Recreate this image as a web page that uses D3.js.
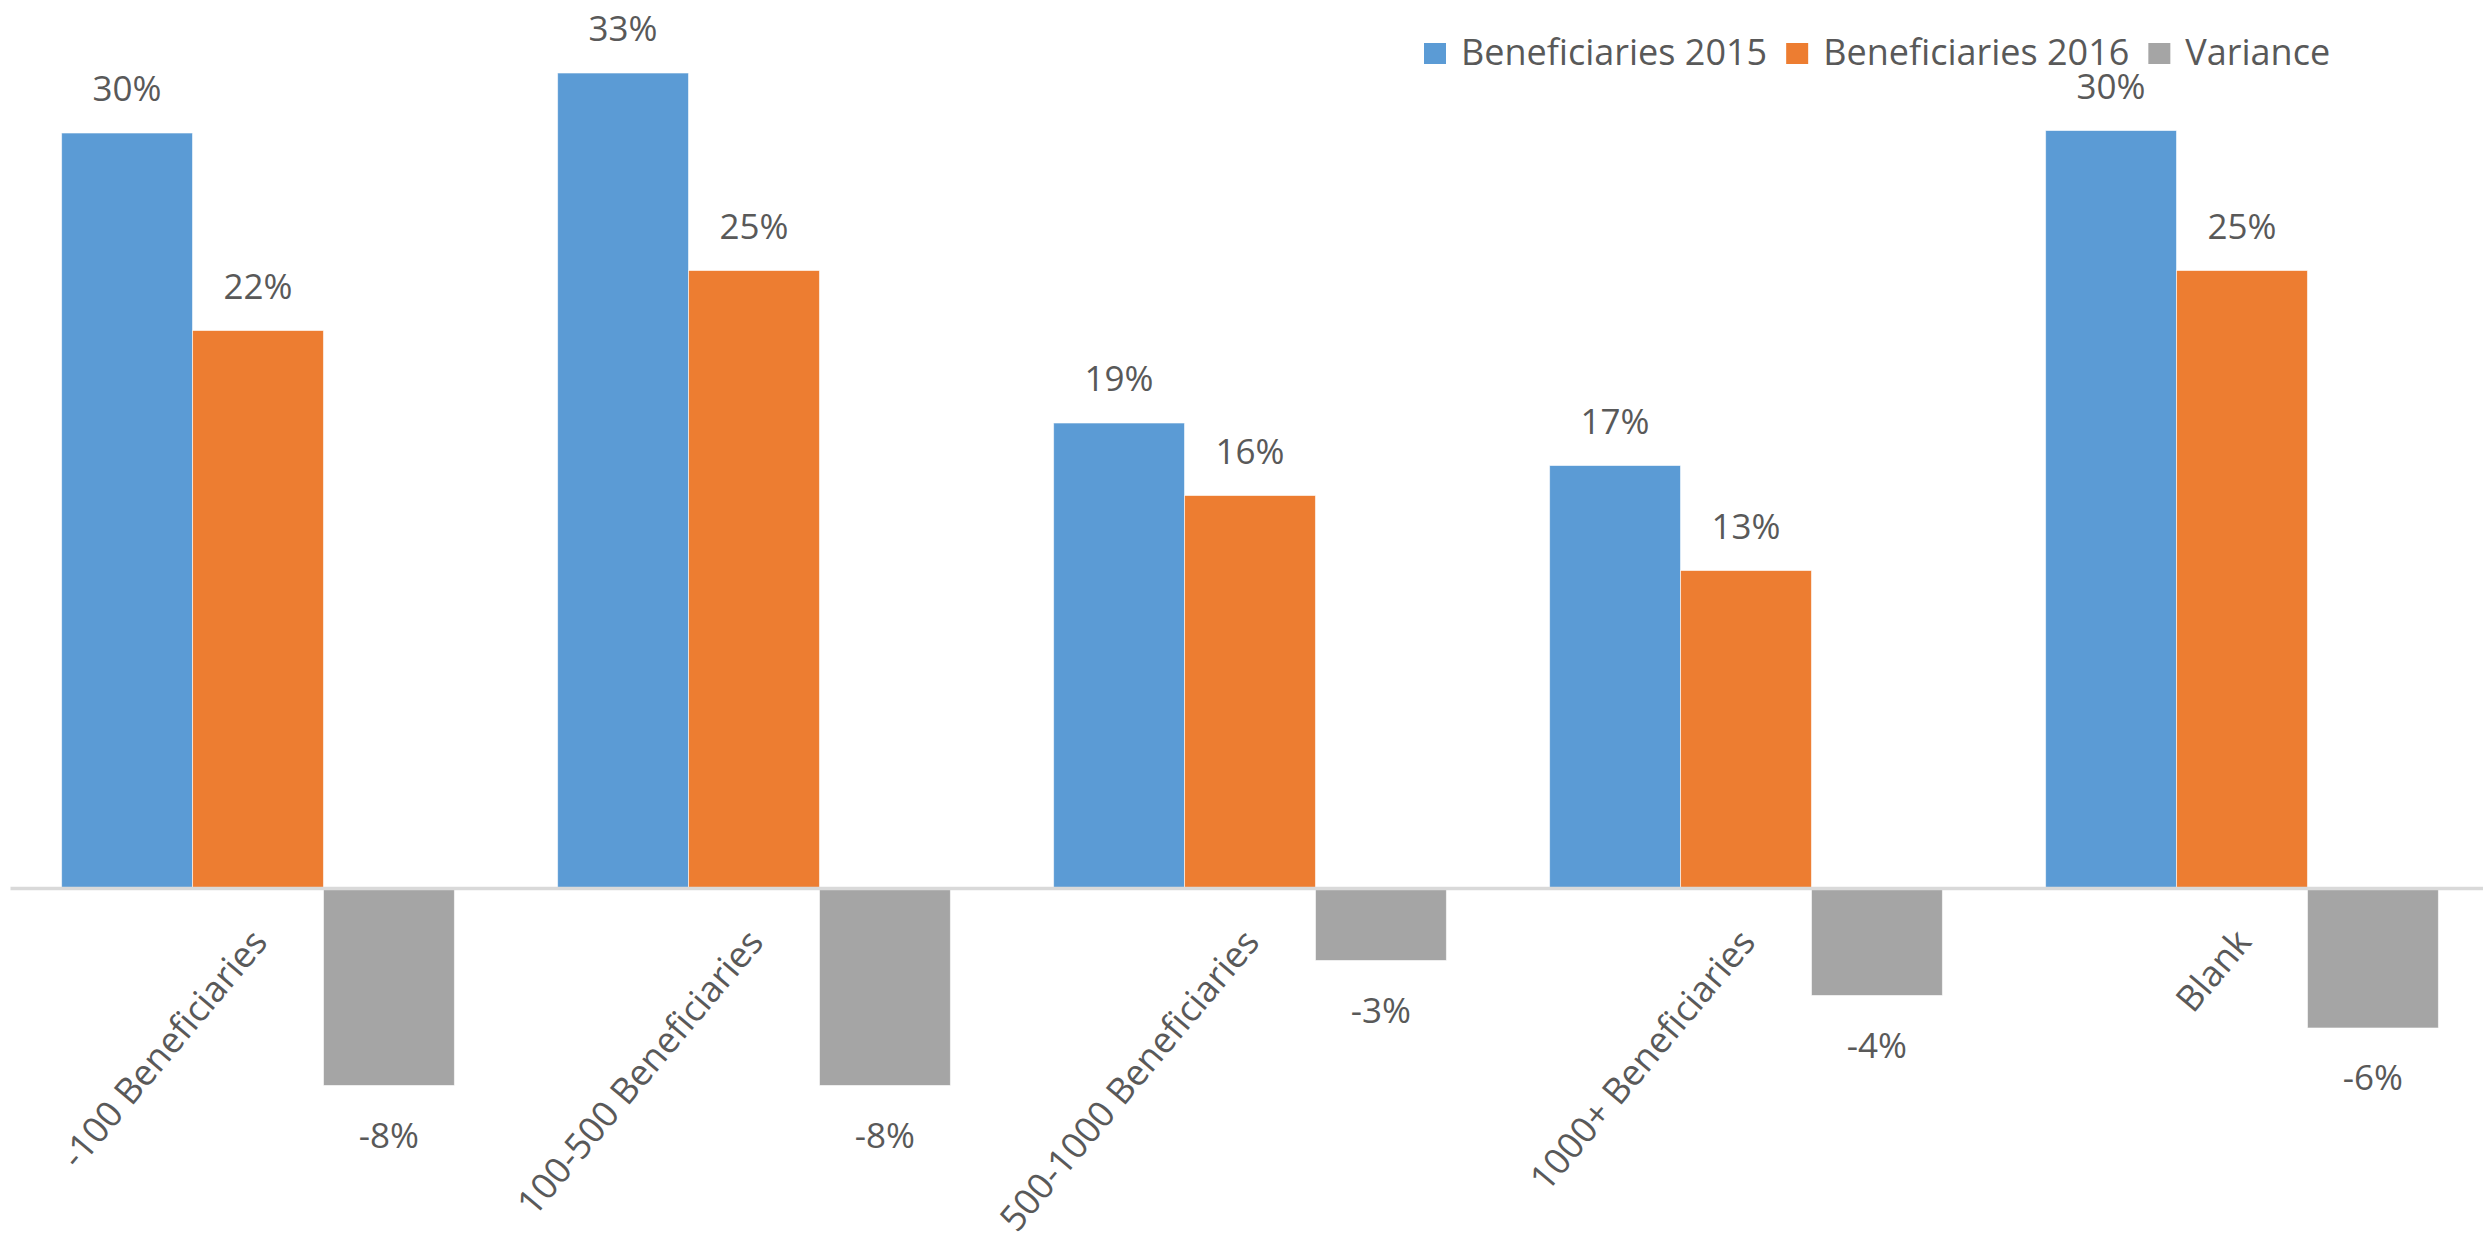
<!DOCTYPE html>
<html>
<head>
<meta charset="utf-8">
<script src="https://cdn.jsdelivr.net/npm/d3@7"></script>
<style>
  html, body { margin: 0; padding: 0; background: #ffffff; }
  svg { display: block; }
  text { font-family: "Open Sans", "Noto Sans", sans-serif; fill: #595959; }
</style>
</head>
<body>
<svg id="chart" width="2483" height="1244"></svg>
<script>
const categories = ["-100 Beneficiaries", "100-500 Beneficiaries", "500-1000 Beneficiaries", "1000+ Beneficiaries", "Blank"];
const seriesNames = ["Beneficiaries 2015", "Beneficiaries 2016", "Variance"];
const beneficiaries2015 = [0.302, 0.326, 0.186, 0.169, 0.303];
const beneficiaries2016 = [0.223, 0.247, 0.157, 0.127, 0.247];
const variance = [-0.079, -0.079, -0.029, -0.043, -0.056];
const seriesColors = ["#5B9BD5", "#ED7D31", "#A5A5A5"];

const svg = d3.select("#chart");

const seriesValues = [beneficiaries2015, beneficiaries2016, variance];
const rows = categories.map((c, i) => ({
  cat: c,
  vals: seriesNames.map((s, j) => ({ key: s, idx: j, v: seriesValues[j][i] }))
}));

const x0 = d3.scaleBand().domain(categories).range([10, 2490]).paddingInner(0.208).paddingOuter(0.104);
const x1 = d3.scaleBand().domain(seriesNames).range([0, x0.bandwidth()]).padding(0);
const y = d3.scaleLinear().domain([-0.10, 0.35]).range([1138, 13]);
const color = d3.scaleOrdinal().domain(seriesNames).range(seriesColors);
const locale = d3.formatLocale({ decimal: ".", thousands: ",", grouping: [3], currency: ["$", ""], minus: "-" });
const pct = locale.format(".0%");

// bars
const groups = svg.append("g").selectAll("g").data(rows).join("g")
  .attr("transform", d => `translate(${x0(d.cat)},0)`);

groups.selectAll("rect").data(d => d.vals).join("rect")
  .attr("x", d => x1(d.key))
  .attr("width", x1.bandwidth())
  .attr("y", d => d.v >= 0 ? y(d.v) : y(0))
  .attr("height", d => Math.abs(y(d.v) - y(0)))
  .attr("fill", d => color(d.key))
  .attr("stroke", "#ffffff")
  .attr("stroke-opacity", 0.6)
  .attr("stroke-width", 1);

// value labels
groups.selectAll("text.val").data(d => d.vals).join("text")
  .attr("class", "val")
  .attr("x", d => x1(d.key) + x1.bandwidth() / 2)
  .attr("y", d => d.v >= 0 ? y(d.v) - 32 : y(d.v) + 62)
  .attr("text-anchor", "middle")
  .style("font-size", "35px")
  .text(d => pct(d.v));

// x axis (zero line)
const xAxis = d3.axisBottom(x0).tickSize(0).tickFormat("");
const axisG = svg.append("g").attr("transform", `translate(0,${y(0)})`).call(xAxis);
axisG.select(".domain").attr("stroke", "#D9D9D9").attr("stroke-width", 3.5);

// category labels (rotated)
svg.append("g").selectAll("text").data(categories).join("text")
  .attr("text-anchor", "end")
  .attr("transform", c => `translate(${x0(c) + x0.bandwidth() / 2 + 11},${y(0) + 55}) rotate(-50)`)
  .style("font-size", "36px")
  .text(c => c);

// legend
const legend = svg.append("g");
let lx = 1424;
seriesNames.forEach((s, j) => {
  legend.append("rect")
    .attr("x", lx).attr("y", 43).attr("width", 22).attr("height", 21)
    .attr("fill", color(s));
  const t = legend.append("text")
    .attr("x", lx + 37).attr("y", 65)
    .style("font-size", "36px")
    .text(s);
  lx = lx + 37 + t.node().getComputedTextLength() + 19;
});
</script>
</body>
</html>
